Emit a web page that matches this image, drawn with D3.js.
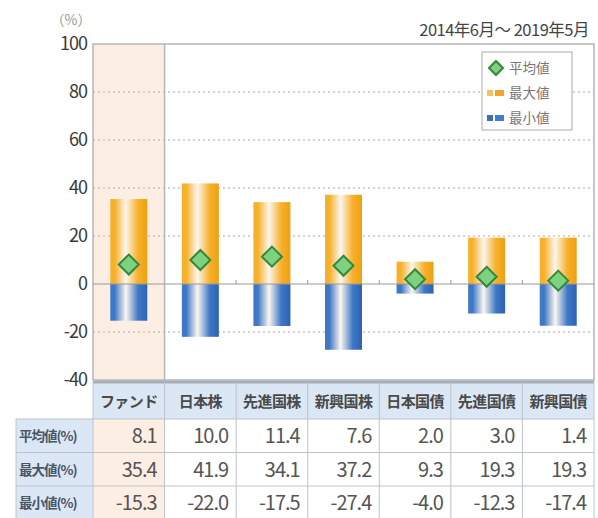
<!DOCTYPE html>
<html lang="ja">
<head>
<meta charset="UTF-8">
<title>リターン分布</title>
<script src="https://d3js.org/d3.v7.min.js"></script>
<style>
    body { margin: 0; background: #fff; }
    text { font-family: "Noto Sans CJK JP", "Noto Sans", sans-serif; fill: #444; }
    .grid line { stroke: #aaa; stroke-dasharray: 2 3; }
</style>
</head>
<body>
<svg width="598" height="518"></svg>
<script>
// data
const categories = ["ファンド", "日本株", "先進国株", "新興国株", "日本国債", "先進国債", "新興国債"];
const avgValues = [8.1, 10.0, 11.4, 7.6, 2.0, 3.0, 1.4];
const maxValues = [35.4, 41.9, 34.1, 37.2, 9.3, 19.3, 19.3];
const minValues = [-15.3, -22.0, -17.5, -27.4, -4.0, -12.3, -17.4];
const yTicks = [100, 80, 60, 40, 20, 0, -20, -40];
const rowLabels = ["平均値(%)", "最大値(%)", "最小値(%)"];
const legendLabels = ["平均値", "最大値", "最小値"];

const svg = d3.select("svg");
const pLeft = 93, pRight = 594, pTop = 44, pBottom = 380;

const x = d3.scaleBand().domain(categories).range([pLeft, pRight]);
const y = d3.scaleLinear().domain([-40, 100]).range([pBottom, pTop]);

// gradients
const defs = svg.append("defs");
function grad(id, c, dark) {
    const g = defs.append("linearGradient").attr("id", id);
    [[0, c], [0.12, c], [0.42, "#fdf6ee"], [0.75, c], [1, dark]].forEach(s =>
        g.append("stop").attr("offset", s[0]).attr("stop-color", s[1]));
}
grad("gMax", "#f6b02a", "#eea012");
grad("gMin", "#3f78c6", "#2c62b4");

// fund column background
svg.append("rect")
    .attr("x", x(categories[0])).attr("y", pTop)
    .attr("width", x.bandwidth()).attr("height", pBottom - pTop)
    .attr("fill", "#fdeee4");

// grid
svg.append("g").attr("class", "grid")
    .selectAll("line")
    .data(yTicks.filter(d => d !== 100 && d !== 0 && d !== -40))
    .join("line")
    .attr("x1", pLeft).attr("x2", pRight)
    .attr("y1", d => y(d)).attr("y2", d => y(d));

// fund separator + plot box
svg.append("line")
    .attr("x1", x(categories[1])).attr("x2", x(categories[1]))
    .attr("y1", pTop).attr("y2", pBottom)
    .attr("stroke", "#b5b5b5").attr("stroke-width", 1.5);
svg.append("rect")
    .attr("x", pLeft).attr("y", pTop)
    .attr("width", pRight - pLeft).attr("height", pBottom - pTop)
    .attr("fill", "none").attr("stroke", "#b5b5b5").attr("stroke-width", 1.5);

// y tick labels
svg.append("g").selectAll("text")
    .data(yTicks)
    .join("text")
    .attr("x", pLeft - 6).attr("y", d => y(d) + 6)
    .attr("text-anchor", "end")
    .attr("font-size", 18).attr("letter-spacing", -1)
    .style("fill", "#3a3a3a")
    .text(d => d);

svg.append("text").attr("x", 71).attr("y", 25)
    .attr("text-anchor", "middle").attr("font-size", 14)
    .style("fill", "#999").text("（%）");

svg.append("text").attr("x", 589).attr("y", 36)
    .attr("text-anchor", "end").attr("font-size", 16.5).attr("letter-spacing", -0.5)
    .style("fill", "#444")
    .text("2014年6月～ 2019年5月");

// bars
const barW = 37;
const bars = svg.append("g");
bars.selectAll(".max")
    .data(categories)
    .join("rect")
    .attr("x", d => x(d) + x.bandwidth() / 2 - barW / 2)
    .attr("y", (d, i) => y(maxValues[i]))
    .attr("width", barW)
    .attr("height", (d, i) => y(0) - y(maxValues[i]))
    .attr("fill", "url(#gMax)");
bars.selectAll(".min")
    .data(categories)
    .join("rect")
    .attr("x", d => x(d) + x.bandwidth() / 2 - barW / 2)
    .attr("y", y(0))
    .attr("width", barW)
    .attr("height", (d, i) => y(minValues[i]) - y(0))
    .attr("fill", "url(#gMin)");

// zero line + small ticks
svg.append("line")
    .attr("x1", pLeft).attr("x2", pRight)
    .attr("y1", y(0)).attr("y2", y(0))
    .attr("stroke", "#999").attr("stroke-width", 1);
svg.append("g").selectAll("line")
    .data(categories.slice(2))
    .join("line")
    .attr("x1", d => x(d)).attr("x2", d => x(d))
    .attr("y1", y(0) - 4).attr("y2", y(0))
    .attr("stroke", "#999");

// diamonds
const dia = 10;
svg.append("g").selectAll("path")
    .data(categories)
    .join("path")
    .attr("transform", (d, i) => `translate(${x(d) + x.bandwidth() / 2},${y(avgValues[i])})`)
    .attr("d", `M0,${-dia}L${dia},0L0,${dia}L${-dia},0Z`)
    .attr("fill", "#7fd07f").attr("stroke", "#2f8a3c").attr("stroke-width", 2);

// legend
const lg = svg.append("g").attr("transform", "translate(482,52)");
lg.append("rect").attr("width", 90).attr("height", 78)
    .attr("fill", "#fff").attr("stroke", "#aaa");
lg.append("path")
    .attr("transform", "translate(14,16)")
    .attr("d", "M0,-7L7,0L0,7L-7,0Z")
    .attr("fill", "#7fd07f").attr("stroke", "#2f8a3c").attr("stroke-width", 2);
[["#f6c35a", "#f2a52a", 41], ["#3c6fb6", "#3f7fd0", 66]].forEach(c => {
    lg.append("rect").attr("x", 5).attr("y", c[2] - 3).attr("width", 6).attr("height", 6).attr("fill", c[0]);
    lg.append("rect").attr("x", 13).attr("y", c[2] - 3).attr("width", 9).attr("height", 6).attr("fill", c[1]);
});
lg.selectAll("text")
    .data(legendLabels)
    .join("text")
    .attr("x", 27).attr("y", (d, i) => 21 + i * 25)
    .attr("font-size", 13.5).style("fill", "#777")
    .text(d => d);

// table
const tTop = 382, headH = 37, rowH = 33.5, labL = 16;
const rows = [avgValues, maxValues, minValues];
const tbl = svg.append("g");

tbl.append("rect").attr("x", pLeft).attr("y", tTop)
    .attr("width", pRight - pLeft).attr("height", headH).attr("fill", "#dbe7f5");
tbl.append("rect").attr("x", labL).attr("y", tTop + headH)
    .attr("width", pLeft - labL).attr("height", 518 - tTop - headH).attr("fill", "#dbe7f5");
tbl.append("rect").attr("x", pLeft).attr("y", tTop + headH)
    .attr("width", x.bandwidth()).attr("height", 518 - tTop - headH).attr("fill", "#fdeee4");

const tGrid = "#bcc3cc";
tbl.append("line").attr("x1", pLeft).attr("x2", pRight)
    .attr("y1", tTop).attr("y2", tTop).attr("stroke", "#a9adb5").attr("stroke-width", 3);
[0, 1, 2].forEach(i => {
    tbl.append("line").attr("x1", labL).attr("x2", pRight)
        .attr("y1", tTop + headH + i * rowH).attr("y2", tTop + headH + i * rowH)
        .attr("stroke", tGrid);
});
tbl.append("line").attr("x1", labL).attr("x2", labL)
    .attr("y1", tTop + headH).attr("y2", 518).attr("stroke", tGrid);
tbl.selectAll(".vsep")
    .data(categories.concat([null]))
    .join("line")
    .attr("x1", d => d ? x(d) : pRight).attr("x2", d => d ? x(d) : pRight)
    .attr("y1", tTop).attr("y2", 518)
    .attr("stroke", tGrid);

tbl.selectAll(".hd")
    .data(categories)
    .join("text")
    .attr("x", d => x(d) + x.bandwidth() / 2)
    .attr("y", tTop + 25)
    .attr("text-anchor", "middle")
    .attr("font-size", 15).attr("font-weight", "bold").attr("letter-spacing", -0.6)
    .style("fill", "#4a4a4a")
    .text(d => d);

tbl.selectAll(".rl")
    .data(rowLabels)
    .join("text")
    .attr("x", labL + 3)
    .attr("y", (d, i) => tTop + headH + i * rowH + 22)
    .attr("font-size", 13.5).attr("font-weight", "bold").attr("letter-spacing", -1)
    .style("fill", "#4a5566")
    .text(d => d);

rows.forEach((vals, r) => {
    tbl.append("g").selectAll("text")
        .data(categories)
        .join("text")
        .attr("x", d => x(d) + x.bandwidth() - 8)
        .attr("y", tTop + headH + r * rowH + 24)
        .attr("text-anchor", "end")
        .attr("font-size", 20).attr("letter-spacing", -1)
        .style("fill", "#555")
        .text((d, i) => vals[i].toFixed(1));
});
</script>
</body>
</html>
